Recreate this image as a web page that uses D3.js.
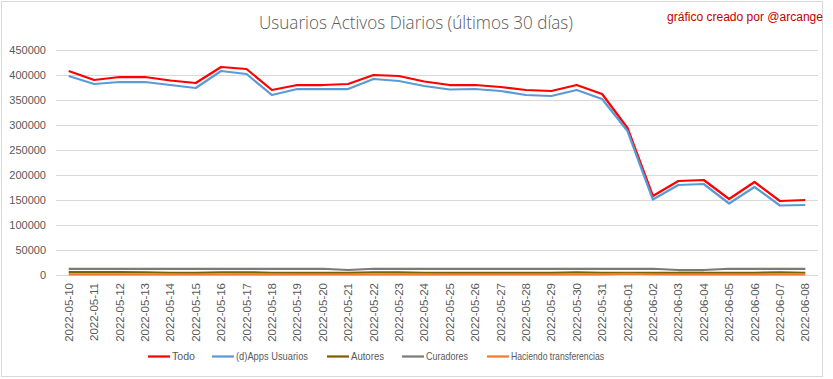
<!DOCTYPE html>
<html><head><meta charset="utf-8">
<script src="https://cdn.jsdelivr.net/npm/d3@7"></script>
<style>body{margin:0;background:#fff}svg{display:block}</style>
</head><body>
<script>
const dates = ["2022-05-10","2022-05-11","2022-05-12","2022-05-13","2022-05-14","2022-05-15","2022-05-16","2022-05-17","2022-05-18","2022-05-19","2022-05-20","2022-05-21","2022-05-22","2022-05-23","2022-05-24","2022-05-25","2022-05-26","2022-05-27","2022-05-28","2022-05-29","2022-05-30","2022-05-31","2022-06-01","2022-06-02","2022-06-03","2022-06-04","2022-06-05","2022-06-06","2022-06-07","2022-06-08"];
const todo = [408000,390000,396000,396000,389000,384000,416000,412000,370000,380000,380000,382000,400000,398000,387000,380000,380000,376000,370000,368000,380000,362000,294000,158000,188000,190000,152000,186000,148000,150000];
const dapps = [398000,382000,386000,386000,380000,374000,408000,402000,360000,372000,372000,372000,392000,388000,378000,371000,372000,368000,360000,358000,370000,352000,288000,151000,180000,182000,143000,176000,139000,140000];
const autores = [6000,6000,6000,5500,4500,4500,5500,5500,4500,4500,4500,4500,5500,5500,4500,4500,4500,4500,4500,4500,5500,4500,4500,4500,4500,4500,4500,4500,5500,4500];
const curadores = [12500,12500,12500,12500,12500,12500,12500,12500,12500,12500,12500,10000,12500,12500,12500,12500,12500,12500,12500,12500,12500,12500,12500,12500,10000,10000,12500,12500,12500,12500];
const transfer = [1500,1500,1500,1500,1500,1500,1500,1500,1500,1500,1500,1500,1500,1500,1500,1500,1500,1500,1500,1500,1500,1500,2500,1500,1500,1500,1500,1500,1500,1500];
const yTicks = [0,50000,100000,150000,200000,250000,300000,350000,400000,450000];
const seriesNames = ["Todo","(d)Apps Usuarios","Autores","Curadores","Haciendo transferencias"];
const seriesColors = ["#ff0000","#5b9bd5","#806000","#7a7a7a","#ed7d31"];
const seriesData = [todo, dapps, autores, curadores, transfer];

const W = 833, H = 379;
const svg = d3.select("body").append("svg").attr("width", W).attr("height", H);
svg.append("rect").attr("x",1.5).attr("y",1.5).attr("width",821).attr("height",375).attr("fill","#fff").attr("stroke","#d9d9d9");

const pL = 56, pR = 818, pT = 50, pB = 275;
const x = d3.scaleBand().domain(dates).range([pL, pR]);
const y = d3.scaleLinear().domain([0, 450000]).range([pB, pT]);
const font = "'Liberation Sans', Arial, sans-serif";

// grid
svg.append("g").selectAll("line").data(yTicks).join("line")
  .attr("x1", pL).attr("x2", pR)
  .attr("y1", d => Math.round(y(d)) + 0.5).attr("y2", d => Math.round(y(d)) + 0.5)
  .attr("stroke", "#d9d9d9").attr("stroke-width", 1);

// y axis labels
const yAxis = d3.axisLeft(y).tickValues(yTicks).tickSize(0).tickPadding(0).tickFormat(d3.format("d"));
const gy = svg.append("g").attr("transform", `translate(${pL-10},0)`).call(yAxis);
gy.select(".domain").remove();
gy.selectAll("text").attr("font-family", font).attr("font-size", 11).attr("fill", "#595959");

// x axis labels
const xAxis = d3.axisBottom(x).tickSize(0).tickPadding(0);
const gx = svg.append("g").attr("transform", `translate(0,${pB})`).call(xAxis);
gx.select(".domain").remove();
gx.selectAll("text").attr("font-family", font).attr("font-size", 11.5).attr("fill", "#595959")
  .attr("transform", "rotate(-90)").attr("text-anchor", "end").attr("dy", "0.35em")
  .attr("x", -8).attr("y", 0);

// lines
const line = d3.line().x((d, i) => x(dates[i]) + x.bandwidth()/2).y(d => y(d));
const order = [0,1,3,2,4];
order.forEach(k => {
  svg.append("path").datum(seriesData[k]).attr("d", line)
    .attr("fill", "none").attr("stroke", seriesColors[k]).attr("stroke-width", 2.25)
    .attr("stroke-linejoin", "round");
});

// title
svg.append("text").attr("x", 416).attr("y", 29).attr("text-anchor", "middle")
  .attr("font-family", "'Open Sans', sans-serif").attr("font-weight", 300).attr("font-size", 18).attr("fill", "#595959")
  .attr("textLength", 314).attr("lengthAdjust", "spacingAndGlyphs")
  .text("Usuarios Activos Diarios (últimos 30 días)");
svg.append("text").attr("x", 823).attr("y", 21).attr("text-anchor", "end")
  .attr("font-family", font).attr("font-size", 12).attr("fill", "#c00000")
  .attr("textLength", 156).attr("lengthAdjust", "spacingAndGlyphs")
  .text("gráfico creado por @arcange");

// legend
const legX = [148, 212, 327, 402, 487];
const legW = [23, 72, 33, 42, 93];
const lg = svg.append("g");
seriesNames.forEach((n, k) => {
  lg.append("line").attr("x1", legX[k]).attr("x2", legX[k] + 22).attr("y1", 356.5).attr("y2", 356.5)
    .attr("stroke", seriesColors[k]).attr("stroke-width", 2.25);
  lg.append("text").attr("x", legX[k] + 24).attr("y", 356).attr("dy", "0.35em")
    .attr("font-family", font).attr("font-size", 11.5).attr("fill", "#595959")
    .attr("textLength", legW[k]).attr("lengthAdjust", "spacingAndGlyphs").text(n);
});
</script>
</body></html>
